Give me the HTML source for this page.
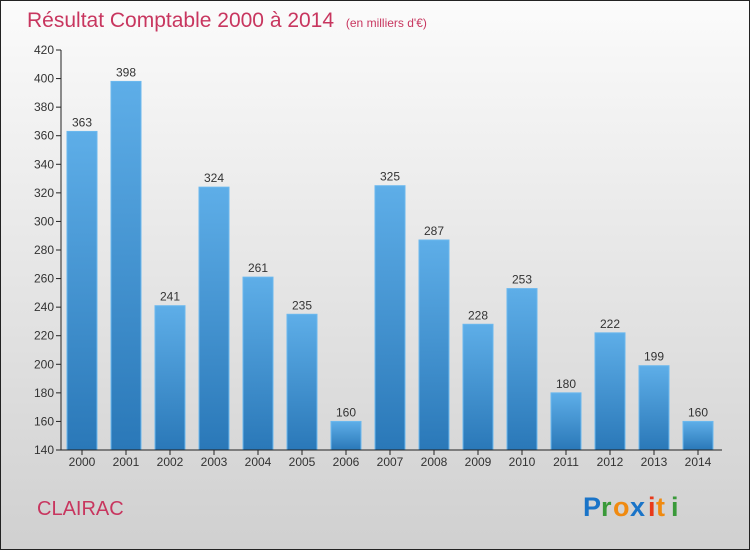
<!DOCTYPE html>
<html><head><meta charset="utf-8"><style>
body{margin:0;width:750px;height:550px;overflow:hidden;font-family:"Liberation Sans",sans-serif}
#wrap{position:absolute;left:0;top:0;width:748px;height:548px;border:1px solid #222;background:linear-gradient(#fbfbfb,#d0d0d0)}
</style></head><body>
<div id="wrap">
<svg id="svg" width="748" height="548" xmlns="http://www.w3.org/2000/svg">
<defs><linearGradient id="bg" x1="0" y1="0" x2="0" y2="1"><stop offset="0" stop-color="#5eaee8"/><stop offset="1" stop-color="#2a78b8"/></linearGradient></defs>
<text x="26" y="26" font-size="21" fill="#c8365f">Résultat Comptable 2000 à 2014 <tspan font-size="12" dx="6">(en milliers d'€)</tspan></text>
<text x="36" y="514" font-size="20" fill="#c8365f">CLAIRAC</text>
<g font-size="27" font-weight="bold" font-family="'Liberation Sans',sans-serif">
<text x="582" y="515" fill="#1a74c8">P</text><text x="600" y="515" fill="#3a9a3a">r</text><text x="612" y="515" fill="#f08a10">o</text><text x="629" y="515" fill="#1a74c8">x</text><text x="647" y="515" fill="#e83a1a">i</text><text x="655" y="515" fill="#f08a10">t</text><text x="670" y="515" fill="#3a9a3a">i</text>
</g>
<g id="plot"></g>
</svg></div>
<script>
const years=["2000","2001","2002","2003","2004","2005","2006","2007","2008","2009","2010","2011","2012","2013","2014"];
const values=[363,398,241,324,261,235,160,325,287,228,253,180,222,199,160];
const yTicks=[140,160,180,200,220,240,260,280,300,320,340,360,380,400,420];
const NS="http://www.w3.org/2000/svg";
const g=document.getElementById('plot');
const y=v=>449-(v-140)*400/280;
const x=i=>81+i*44;
function mk(t,a){const e=document.createElementNS(NS,t);for(const k in a)e.setAttribute(k,a[k]);g.appendChild(e);return e;}
yTicks.forEach(v=>{
 const l=mk('line',{x1:55,x2:60,y1:y(v),y2:y(v),stroke:'#222'});
 
 
 const t=mk('text',{x:53,y:y(v)+4,'text-anchor':'end','font-size':12,fill:'#333'});t.textContent=v;
 
 
});
values.forEach((v,i)=>{
 const r=mk('rect',{x:x(i)-15,y:y(v),width:30,height:449-y(v),fill:'url(#bg)',stroke:'#6bb8ee','stroke-width':1});
 
 
 const t=mk('text',{x:x(i),y:y(v)-5,'text-anchor':'middle','font-size':12,fill:'#333'});t.textContent=v;
 
 
 const k=mk('line',{x1:x(i),x2:x(i),y1:449,y2:454,stroke:'#222'});
 
 
 const xl=mk('text',{x:x(i),y:465,'text-anchor':'middle','font-size':12,fill:'#333'});xl.textContent=years[i];
 
 
});
const ya=mk('line',{x1:60,x2:60,y1:49,y2:449,stroke:'#222'});


const xa=mk('line',{x1:60,x2:721,y1:449,y2:449,stroke:'#222'});


</script>
</body></html>
